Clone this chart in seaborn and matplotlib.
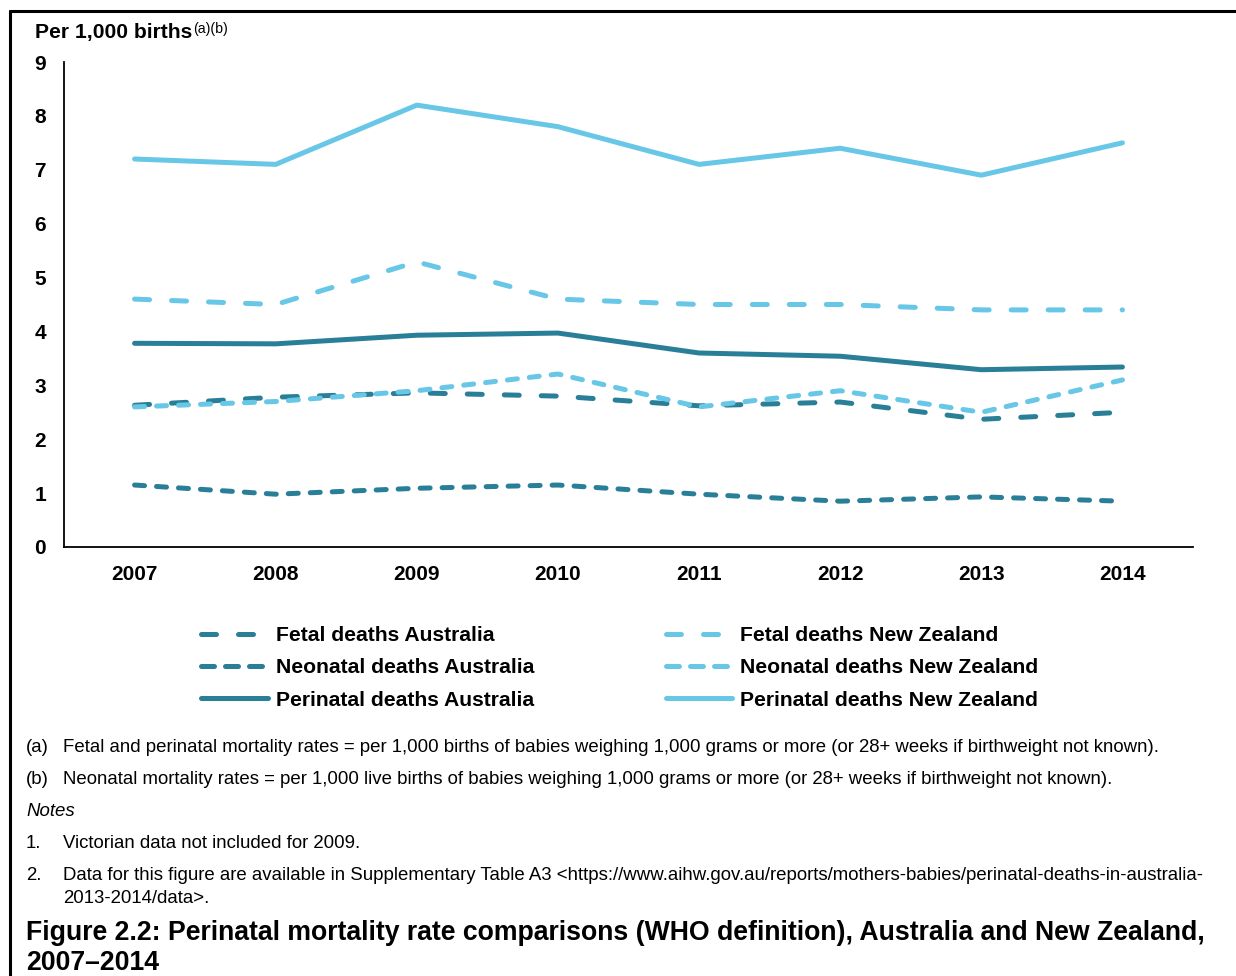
import numpy as np
import pandas as pd
import matplotlib
matplotlib.use("Agg")
import matplotlib.pyplot as plt
from matplotlib.lines import Line2D
import seaborn as sns

# data (per 1,000 births)
years = [2007, 2008, 2009, 2010, 2011, 2012, 2013, 2014]
fetal_aus = [2.63, 2.78, 2.86, 2.80, 2.62, 2.69, 2.37, 2.50]
neonatal_aus = [1.15, 0.98, 1.09, 1.15, 0.98, 0.85, 0.93, 0.85]
perinatal_aus = [3.78, 3.77, 3.93, 3.97, 3.60, 3.54, 3.29, 3.34]
fetal_nz = [4.60, 4.50, 5.29, 4.60, 4.50, 4.50, 4.40, 4.40]
neonatal_nz = [2.60, 2.70, 2.90, 3.21, 2.60, 2.90, 2.50, 3.10]
perinatal_nz = [7.20, 7.10, 8.20, 7.80, 7.10, 7.40, 6.90, 7.50]

series_names = [
    "Fetal deaths Australia",
    "Neonatal deaths Australia",
    "Perinatal deaths Australia",
    "Fetal deaths New Zealand",
    "Neonatal deaths New Zealand",
    "Perinatal deaths New Zealand",
]
series_values = [fetal_aus, neonatal_aus, perinatal_aus, fetal_nz, neonatal_nz, perinatal_nz]

footnotes = [
    ("(a)", "Fetal and perinatal mortality rates = per 1,000 births of babies weighing 1,000 grams or more (or 28+ weeks if birthweight not known)."),
    ("(b)", "Neonatal mortality rates = per 1,000 live births of babies weighing 1,000 grams or more (or 28+ weeks if birthweight not known)."),
]
notes = [
    ("1.", ["Victorian data not included for 2009."]),
    ("2.", ["Data for this figure are available in Supplementary Table A3 <https://www.aihw.gov.au/reports/mothers-babies/perinatal-deaths-in-australia-",
            "2013-2014/data>."]),
]
title_lines = [
    "Figure 2.2: Perinatal mortality rate comparisons (WHO definition), Australia and New Zealand,",
    "2007\u20132014",
]

# long-form table for seaborn
df = pd.DataFrame({
    "year": np.tile(years, len(series_names)),
    "rate": np.concatenate(series_values),
    "series": np.repeat(series_names, len(years)),
})

dark = "#2a7f98"
light = "#68c7e7"
styles = {
    "Fetal deaths Australia": (dark, (0, (3.0, 4.4))),
    "Neonatal deaths Australia": (dark, (0, (2.0, 2.4))),
    "Perinatal deaths Australia": (dark, "-"),
    "Fetal deaths New Zealand": (light, (0, (3.0, 4.4))),
    "Neonatal deaths New Zealand": (light, (0, (2.0, 2.4))),
    "Perinatal deaths New Zealand": (light, "-"),
}
# legend swatches: slightly stretched short dash so three dashes fill the handle
legend_styles = {
    "Fetal deaths Australia": (dark, (0, (3.0, 4.4))),
    "Neonatal deaths Australia": (dark, (0, (2.6, 2.2))),
    "Perinatal deaths Australia": (dark, "-"),
    "Fetal deaths New Zealand": (light, (0, (3.0, 4.4))),
    "Neonatal deaths New Zealand": (light, (0, (2.6, 2.2))),
    "Perinatal deaths New Zealand": (light, "-"),
}

sns.set_style("white")
plt.rcParams["font.family"] = ["Liberation Sans", "DejaVu Sans"]
plt.rcParams["text.color"] = "black"
plt.rcParams["xtick.color"] = "black"
plt.rcParams["ytick.color"] = "black"

W, H = 1236, 976
fig = plt.figure(figsize=(W / 100, H / 100), dpi=100)


def fx(x):
    return x / W


def fy(y):
    return 1 - y / H


ax = fig.add_axes([fx(64), fy(547), fx(1193) - fx(64), fy(62) - fy(547)])

lw = 3.6
for name in series_names:
    color, ls = styles[name]
    sns.lineplot(
        data=df[df["series"] == name], x="year", y="rate", ax=ax,
        color=color, linestyle=ls, linewidth=lw, label=name,
        dash_capstyle="round", solid_capstyle="round", legend=False,
    )

ax.set_xlim(2006.5, 2014.5)
ax.set_ylim(0, 9)
ax.set_yticks(range(0, 10))
ax.set_xticks(years)
ax.set_xticks(np.arange(2006.5, 2015, 1), minor=True)
ax.set_xticklabels([str(y) for y in years], fontsize=15, fontweight="bold")
ax.set_yticklabels([str(v) for v in range(0, 10)], fontsize=15, fontweight="bold")
ax.tick_params(axis="x", which="major", length=0, pad=13)
ax.tick_params(axis="x", which="minor", length=4, width=1.3, direction="out", color="black")
ax.tick_params(axis="y", length=4, width=1.3, direction="out", color="black", pad=9)
ax.set_xlabel("")
ax.set_ylabel("")
for side in ["top", "right"]:
    ax.spines[side].set_visible(False)
for side in ["left", "bottom"]:
    ax.spines[side].set_color("black")
    ax.spines[side].set_linewidth(1.3)

# header above y axis
fig.text(fx(35), fy(38), "Per 1,000 births", fontsize=15.2, fontweight="bold", va="baseline", ha="left")
fig.text(fx(193), fy(33), "(a)(b)", fontsize=10.2, va="baseline", ha="left")

# legend
handles = []
for name in series_names:
    color, ls = legend_styles[name]
    handles.append(Line2D([0], [0], color=color, linestyle=ls, linewidth=lw,
                          dash_capstyle="round", solid_capstyle="round"))
fig.legend(handles, series_names, ncol=2, loc="upper left",
           bbox_to_anchor=(fx(195), fy(620)), frameon=False,
           prop={"size": 15.2, "weight": "bold"}, handlelength=3.15,
           handletextpad=0.4, columnspacing=6.2, labelspacing=0.62,
           borderaxespad=0, borderpad=0.3)

# footnotes
fs = 13.45
y = 752
for lab, txt in footnotes:
    fig.text(fx(26), fy(y), lab, fontsize=fs, va="baseline")
    fig.text(fx(63), fy(y), txt, fontsize=fs, va="baseline")
    y += 32
fig.text(fx(26), fy(816), "Notes", fontsize=fs, style="italic", va="baseline")
y = 848
for lab, lines in notes:
    fig.text(fx(26), fy(y), lab, fontsize=fs, va="baseline")
    for k, txt in enumerate(lines):
        fig.text(fx(63), fy(y + 23 * k), txt, fontsize=fs, va="baseline")
    y += 32

for k, txt in enumerate(title_lines):
    fig.text(fx(26), fy(940 + 30 * k), txt, fontsize=19.2, fontweight="bold", va="baseline")

# page border (top and left)
fig.add_artist(Line2D([fx(10), 1], [fy(11), fy(11)], color="black", linewidth=2.2, transform=fig.transFigure))
fig.add_artist(Line2D([fx(10), fx(10)], [fy(11), 0], color="black", linewidth=2.2, transform=fig.transFigure))

fig.savefig("out.png", dpi=100)
